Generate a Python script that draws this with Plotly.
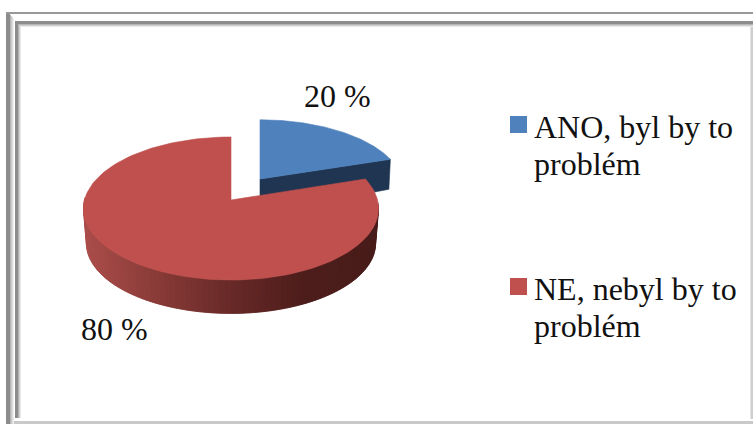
import numpy as np
import plotly.graph_objects as go

# Survey answers, in percent
categories = ["ANO, byl by to problém", "NE, nebyl by to problém"]
values = [20, 80]
value_labels = ["20 %", "80 %"]
slice_colors = ["#4f81bd", "#c0504d"]
legend_lines = [["ANO, byl by to", "problém"], ["NE, nebyl by to", "problém"]]

W, H = 753, 424
FONT = "Liberation Serif"

# Pie projection: ground-plane tilt with a mild perspective
CX, CY = 231.0, 200.0
A, B, K = 146.5, 70.5, 0.119
DEPTH = 35.0
BOTTOM_SCALE = 0.98
EXPLODE_DX, EXPLODE_DY = 29.0, 21.0
EXPLODED_SX, EXPLODED_SY = 0.97, 0.94


def project(theta, radius=1.0):
    u, v = radius * np.sin(theta), radius * np.cos(theta)
    s = 1.0 + K * v
    return A * u / s, -B * v / s


def wedge(start, end, ox, oy, sx=1.0, sy=1.0):
    t = np.linspace(start, end, 160)
    x, y = project(t)
    return (np.r_[ox, ox + sx * x, ox], np.r_[oy, oy + sy * y, oy])


fracs = np.array(values) / sum(values)
blue_end = 2 * np.pi * fracs[0]

fig = go.Figure()


def polygon(x, y, color):
    fig.add_trace(go.Scatter(x=x, y=y, mode="lines", fill="toself", fillcolor=color,
                             line=dict(color=color, width=0.6), hoverinfo="skip",
                             showlegend=False))


# Exploded slice: its cut face first, the top over it
bx, by = CX + EXPLODE_DX, CY - EXPLODE_DY
tx, ty = project(blue_end)
tip_x, tip_y = bx + EXPLODED_SX * tx, by + EXPLODED_SY * ty
polygon([bx, tip_x, tip_x - 1.5, bx, bx],
        [by, tip_y, tip_y + 30, by + DEPTH, by], "#1f3552")
polygon(*wedge(0, blue_end, bx, by, EXPLODED_SX, EXPLODED_SY), slice_colors[0])

# Side wall of the large slice, shaded strip by strip; each strip overlaps
# the next one so no seams show between them
edges = np.linspace(np.radians(92), np.radians(272), 91)
stop_x = [-148, -70, 0, 70, 148]
stop_rgb = np.array([[172, 78, 75], [135, 58, 55], [104, 42, 40], [78, 30, 28], [72, 28, 26]])
for i in range(len(edges) - 1):
    t = np.linspace(edges[i], edges[min(i + 2, len(edges) - 1)], 5)
    x, y = project(t)
    xb = BOTTOM_SCALE * x
    yb = BOTTOM_SCALE * y + DEPTH
    mid = project(0.5 * (edges[i] + edges[i + 1]))[0]
    rgb = [np.interp(mid, stop_x, stop_rgb[:, c]) for c in range(3)]
    color = "rgb(%d,%d,%d)" % tuple(rgb)
    polygon(np.r_[CX + x, CX + xb[::-1]], np.r_[CY + y, CY + yb[::-1]], color)

polygon(*wedge(blue_end, 2 * np.pi, CX, CY), slice_colors[1])

# Legend swatches
for color, yc in zip(slice_colors, [124.5, 286.5]):
    fig.add_trace(go.Scatter(x=[518.5], y=[yc], mode="markers", hoverinfo="skip", showlegend=False,
                             marker=dict(symbol="square", size=17, color=color)))

annotations = []


def text(x, y, s, anchor="left"):
    annotations.append(dict(x=x, y=y, xref="x", yref="y", text=s, showarrow=False,
                            xanchor=anchor, yanchor="middle",
                            font=dict(family=FONT, size=32, color="#111111")))


text(302, 96, value_labels[0])
text(79, 329, value_labels[1])
for lines, y0 in zip(legend_lines, [127, 289]):
    text(532, y0, lines[0])
    text(532, y0 + 37, lines[1])

# Double bevelled frame around the chart


def band(x0, y0, x1, y1, color):
    return dict(type="rect", x0=x0, y0=y0, x1=x1, y1=y1, xref="x", yref="y",
                fillcolor=color, line=dict(width=0), layer="below")


shapes = []
# left side: (x0, x1, first y, colour), the first y stepping along the mitre
left_bands = [(6, 10, 12, "#8c8c8c"), (10, 11, 15, "#b4b4b4"), (11, 12, 16, "#cccccc"),
              (12, 13, 17, "#dedede"), (13, 14, 18, "#eeeeee"), (15, 18, 21, "#8c8c8c"),
              (18, 19, 24, "#b4b4b4"), (19, 20, 25, "#d0d0d0"), (20, 21, 26, "#e8e8e8")]
for x0, x1, y0, c in left_bands:
    y_end = H if x0 < 15 else 418
    shapes.append(band(x0, y0, x1, y_end, c))
top_bands = [(12, 14, 6, "#999999"), (21, 24, 15, "#8c8c8c"), (24, 25, 18, "#b4b4b4"),
             (25, 26, 19, "#d0d0d0"), (26, 27, 20, "#e8e8e8")]
for y0, y1, x0, c in top_bands:
    shapes.append(band(x0, y0, W, y1, c))
shapes.append(band(750, 27, 751, 419, "#e2e2e2"))
shapes.append(band(751, 27, 753, 419, "#cfcfcf"))
shapes.append(band(14, 421, W, H, "#c9c9c9"))

fig.update_layout(
    width=W, height=H, autosize=False,
    margin=dict(l=0, r=0, t=0, b=0),
    paper_bgcolor="white", plot_bgcolor="white",
    showlegend=False,
    xaxis=dict(range=[0, W], visible=False, fixedrange=True),
    yaxis=dict(range=[H, 0], visible=False, fixedrange=True),
    annotations=annotations, shapes=shapes,
)

fig.write_html("out.html", config={"displayModeBar": False})
